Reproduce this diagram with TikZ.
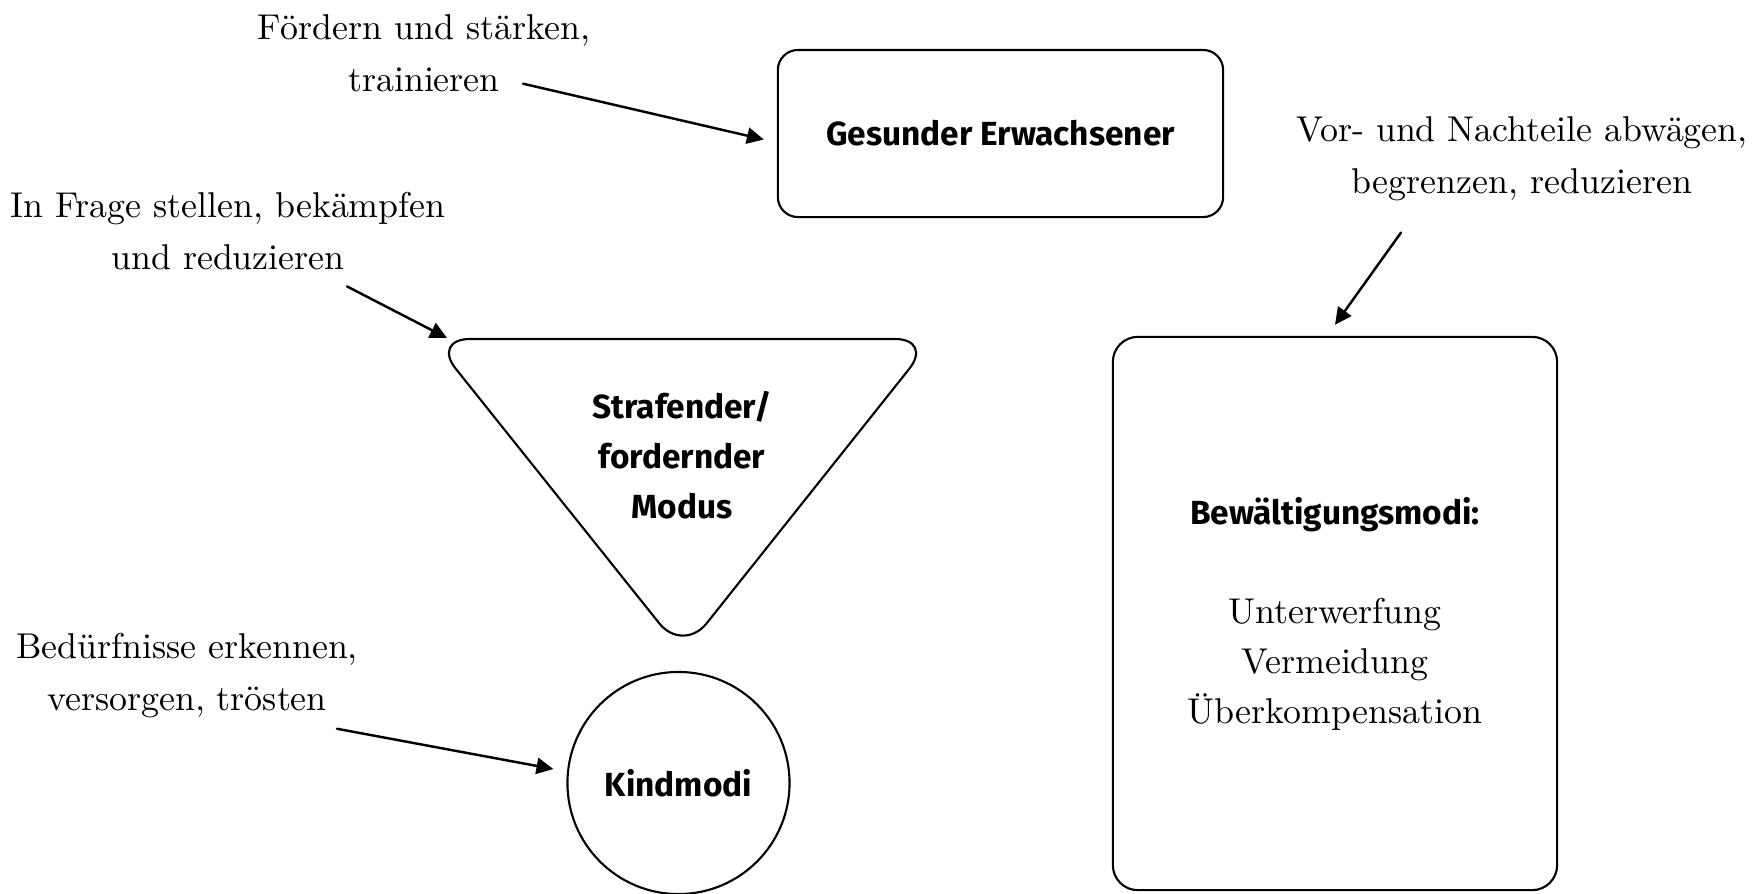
\documentclass[tikz,border=0pt]{standalone}
\usepackage{fontspec}
\newfontfamily\modusfont{Fira Sans}
\usetikzlibrary{arrows.meta,calc}

\newcommand{\modserif}[1]{{\normalfont\fontsize{10.2}{14.3}\selectfont #1}}

\tikzset{
  modus/.style={draw,line width=0.6pt,inner sep=0pt,align=center,
    font=\modusfont\bfseries\fontsize{9.5}{14.2}\selectfont},
  hinweis/.style={inner sep=0pt,align=center,font=\fontsize{10.2}{14.8}\selectfont},
  pfeil/.style={-{Triangle[length=4.8pt,width=4.6pt]},line width=0.7pt,shorten >=0pt}
}

\begin{document}
\begin{tikzpicture}[x=0.01cm,y=-0.01cm,line cap=round]
\useasboundingbox (0,0) rectangle (1759,893);

% Modi
\node[modus,rounded corners=0.2cm,minimum width=4.45cm,minimum height=1.67cm] (ge) at (1000.5,133.5) {Gesunder Erwachsener};
\node[modus,rounded corners=0.25cm,minimum width=4.44cm,minimum height=5.53cm] (bw) at (1335,613.5)
  {Bewältigungsmodi:\\[14pt]\modserif{Unterwerfung}\\\modserif{Vermeidung}\\\modserif{Überkompensation}};
\node[modus,circle,minimum size=2.22cm] (kind) at (678.5,783) {Kindmodi};

% Dreieck
\coordinate (tl) at (432,339);
\coordinate (tr) at (933,339);
\coordinate (tb) at (683,653);
\draw[line width=0.6pt,rounded corners=0.38cm] (tl) -- (tr) -- (tb) -- cycle;
\node[modus,draw=none] (straf) at (682,455) {Strafender/\\fordernder\\Modus};

% Hinweise
\node[hinweis] (l1) at (424,53.3) {Fördern und stärken,\\trainieren};
\node[hinweis] (l2) at (228,230.8) {In Frage stellen, bekämpfen\\und reduzieren};
\node[hinweis] (l3) at (187,675.7) {Bedürfnisse erkennen,\\versorgen, trösten};
\node[hinweis] (l4) at (1522,158.7) {Vor- und Nachteile abwägen,\\begrenzen, reduzieren};

\draw[pfeil] ($(l1.south)+(99,-9)$) -- ($(ge.west)+(-13,6)$);
\draw[pfeil] ($(l2.south)+(119,16)$) -- ($(tl)+(15,-1)$);
\draw[pfeil] ($(l3.south)+(150,10)$) -- ($(kind.west)+(-13,-14)$);
\draw[pfeil] ($(l4.south)+(-121,31)$) -- ($(bw.north)+(0,-11)$);
\end{tikzpicture}
\end{document}
